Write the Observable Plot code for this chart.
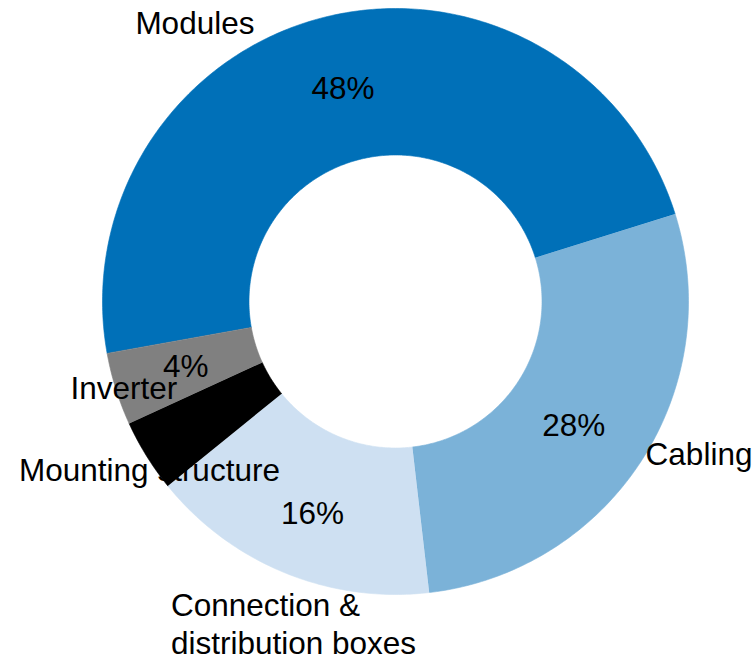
<!DOCTYPE html>
<html>
<head>
<meta charset="utf-8">
<script src="https://cdn.jsdelivr.net/npm/d3@7"></script>
<script src="https://cdn.jsdelivr.net/npm/@observablehq/plot@0.6"></script>
<style>
  body { margin: 0; background: #ffffff; }
  #chart svg { display: block; }
</style>
</head>
<body>
<div id="chart"></div>
<script>
// ---- data ----
const categories = ["Modules", "Cabling", "Connection & distribution boxes", "Mounting structure", "Inverter"];
const shares = [48, 28, 16, 4, 4];
const percentLabels = ["48%", "28%", "16%", "4%", "4%"];
const sliceLabels = ["Modules", "Cabling", "Connection &\ndistribution boxes", "Mounting structure", "Inverter"];
const sliceColors = ["#0070B8", "#7BB2D8", "#CEE0F2", "#000000", "#808080"];

// ---- layout ----
const W = 756, H = 661;
const CX = 395, CY = 301, RPX = 293;   // donut centre and outer radius in px
const INNER = 0.5;                     // inner radius / outer radius
const START_DEG = -100.2;              // first slice start, clockwise from 12 o'clock
const FONT = 31.5;

const rad = d => d * Math.PI / 180;
const arcs = d3.pie().sort(null)
  .startAngle(rad(START_DEG))
  .endAngle(rad(START_DEG) + 2 * Math.PI)(shares);

const polar = (a, r) => ({x: r * Math.sin(a), y: r * Math.cos(a)});

// slice outlines (outer arc forward, inner arc back)
const rows = [];
arcs.forEach((arc, i) => {
  const a0 = arc.startAngle, a1 = arc.endAngle;
  const n = Math.max(6, Math.ceil((a1 - a0) / (2 * Math.PI) * 480));
  for (let k = 0; k <= n; k++) {
    const p = polar(a0 + (a1 - a0) * k / n, 1);
    rows.push({cat: categories[i], ...p});
  }
  for (let k = n; k >= 0; k--) {
    const p = polar(a0 + (a1 - a0) * k / n, INNER);
    rows.push({cat: categories[i], ...p});
  }
});

const mid = arc => (arc.startAngle + arc.endAngle) / 2;

// percentage labels, in the ring (small pixel nudges as in the original)
const pctNudge = {
  "Modules": [0, 1],
  "Cabling": [-6, 5],
  "Connection & distribution boxes": [0, 9]
};
const pctRows = arcs.map((arc, i) => {
  const p = polar(mid(arc), 0.75);
  const nd = pctNudge[categories[i]] || [0, 0];
  return {cat: categories[i], text: percentLabels[i], x: p.x + nd[0] / RPX, y: p.y - nd[1] / RPX};
});

// category labels: outside for large slices, on the rim for small ones;
// slide along the circle if a label would leave the top of the frame
const yTopLimit = (CY - 23) / RPX;
const labelNudge = {
  "Cabling": [16, -33],
  "Connection & distribution boxes": [-95, 4],
  "Mounting structure": [3, 15],
  "Inverter": [8, 0]
};
const labRows = arcs.map((arc, i) => {
  const big = shares[i] >= 10;
  const r = big ? 1.17 : 1.0;
  let a = mid(arc);
  let p = polar(a, r);
  if (p.y > yTopLimit) {
    const off = Math.acos(yTopLimit / r);
    a = Math.sin(a) < 0 ? -off : off;
    p = polar(a, r);
  }
  const nd = labelNudge[categories[i]] || [0, 0];
  return {cat: categories[i], text: sliceLabels[i], multi: sliceLabels[i].includes("\n"),
          x: p.x + nd[0] / RPX, y: p.y - nd[1] / RPX};
});

const chart = Plot.plot({
  width: W,
  height: H,
  margin: 0,
  style: {fontFamily: "'Liberation Sans', Arial, sans-serif", background: "#ffffff", overflow: "visible"},
  x: {domain: [(0 - CX) / RPX, (W - CX) / RPX], range: [0, W], axis: null},
  y: {domain: [-(H - CY) / RPX, CY / RPX], range: [H, 0], axis: null},
  color: {type: "ordinal", domain: categories, range: sliceColors},
  marks: [
    Plot.line(rows, {x: "x", y: "y", z: "cat", fill: "cat", stroke: "cat", strokeWidth: 0.6, curve: "linear"}),
    Plot.text(pctRows, {x: "x", y: "y", text: "text", fill: "#000", fontSize: FONT, textAnchor: "middle"}),
    Plot.text(labRows.filter(d => !d.multi), {x: "x", y: "y", text: "text", fill: "#000", fontSize: FONT, textAnchor: "middle"}),
    Plot.text(labRows.filter(d => d.multi), {x: "x", y: "y", text: "text", fill: "#000", fontSize: FONT, textAnchor: "start", lineHeight: 1.2})
  ]
});

document.getElementById("chart").appendChild(chart);
</script>
</body>
</html>
